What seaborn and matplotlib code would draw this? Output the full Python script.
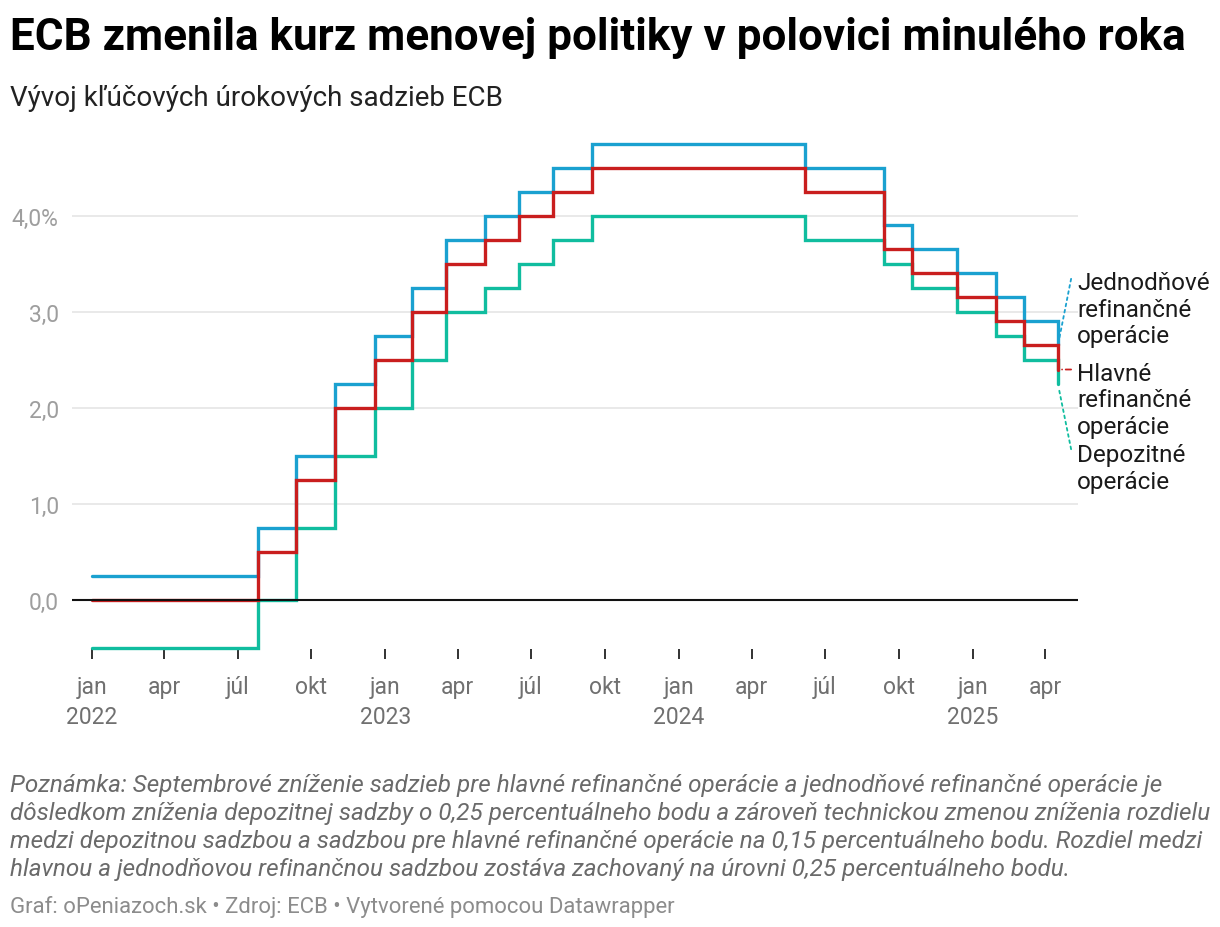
import pandas as pd
import seaborn as sns
import matplotlib.pyplot as plt

# dni zmeny sadzieb ECB (odcitane z grafu)
datumy = ["2022-01-01", "2022-07-27", "2022-09-12", "2022-10-30", "2022-12-19",
          "2023-02-03", "2023-03-17", "2023-05-05", "2023-06-16", "2023-07-28",
          "2023-09-15", "2024-06-06", "2024-09-12", "2024-10-17", "2024-12-12",
          "2025-01-30", "2025-03-06", "2025-04-17"]
jednodnove = [0.25, 0.75, 1.50, 2.25, 2.75, 3.25, 3.75, 4.00, 4.25, 4.50,
              4.75, 4.50, 3.90, 3.65, 3.40, 3.15, 2.90, 2.65]
depozitne = [-0.50, 0.00, 0.75, 1.50, 2.00, 2.50, 3.00, 3.25, 3.50, 3.75,
             4.00, 3.75, 3.50, 3.25, 3.00, 2.75, 2.50, 2.25]
hlavne = [0.00, 0.50, 1.25, 2.00, 2.50, 3.00, 3.50, 3.75, 4.00, 4.25,
          4.50, 4.25, 3.65, 3.40, 3.15, 2.90, 2.65, 2.40]

serie = ["Jednodňové", "Depozitné", "Hlavné"]
popisky = ["Jednodňové\nrefinančné\noperácie", "Depozitné\noperácie",
           "Hlavné\nrefinančné\noperácie"]
farby = ["#1aa1d0", "#10bd9f", "#c91e1e"]

tick_datumy = ["2022-01-01", "2022-04-01", "2022-07-01", "2022-10-01",
               "2023-01-01", "2023-04-01", "2023-07-01", "2023-10-01",
               "2024-01-01", "2024-04-01", "2024-07-01", "2024-10-01",
               "2025-01-01", "2025-04-01"]
tick_popisky = ["jan\n2022", "apr", "júl", "okt", "jan\n2023", "apr", "júl", "okt",
                "jan\n2024", "apr", "júl", "okt", "jan\n2025", "apr"]
y_ticky = [0, 1, 2, 3, 4]
y_popisky = ["0,0", "1,0", "2,0", "3,0", "4,0%"]

df = pd.DataFrame({
    "datum": pd.to_datetime(datumy * 3),
    "sadzba": jednodnove + depozitne + hlavne,
    "typ": ["Jednodňové"] * len(datumy) + ["Depozitné"] * len(datumy) + ["Hlavné"] * len(datumy),
})

sns.set_style("white")
plt.rcParams["font.family"] = ["Roboto", "DejaVu Sans"]

W, H = 1220, 928
fig = plt.figure(figsize=(W / 100, H / 100), dpi=100)
ax = fig.add_axes([72 / W, 1 - 650 / H, (1078 - 72) / W, (650 - 140) / H])

sns.lineplot(data=df, x="datum", y="sadzba", hue="typ", hue_order=serie,
             palette=farby, drawstyle="steps-post", linewidth=2.4,
             legend=False, ax=ax)
for ln in ax.lines:
    ln.set_clip_on(False)
    ln.set_solid_joinstyle("miter")

ax.set_xlim(pd.Timestamp("2021-12-07"), pd.Timestamp("2025-05-12"))
ax.set_ylim(-0.51, 4.80)

# mriezka + nulova os
for v in y_ticky[1:]:
    ax.axhline(v, color="#e3e3e3", lw=1.1, zorder=0)
ax.axhline(0, color="#111111", lw=1.5, zorder=5)

ax.set_yticks(y_ticky)
ax.set_yticklabels(y_popisky)
ax.tick_params(axis="y", left=False, length=0, pad=9.5, labelsize=16.5, labelcolor="#9e9e9e")

ax.set_xticks(pd.to_datetime(tick_datumy))
ax.set_xticklabels(tick_popisky)
ax.tick_params(axis="x", bottom=True, length=7.5, width=1.3, color="#222222", pad=11,
               labelsize=16.5, labelcolor="#707070", direction="out")
for t in ax.get_xticklabels():
    t.set_linespacing(1.4)

for s in ax.spines.values():
    s.set_visible(False)
ax.set_xlabel("")
ax.set_ylabel("")

# popisky na konci ciar
koniec = pd.Timestamp(datumy[-1])
konce = {"Jednodňové": jednodnove[-1], "Hlavné": hlavne[-1], "Depozitné": depozitne[-1]}
ciara_dy = {"Jednodňové": 48, "Hlavné": 0, "Depozitné": -47}
text_dy = {"Jednodňové": 53.7, "Hlavné": 5.5, "Depozitné": -42.5}
styly = {"Jednodňové": (0, (1.5, 2)), "Hlavné": (0, (3, 2)), "Depozitné": (0, (1.5, 2))}
for nazov, popis, farba in zip(serie, popisky, farby):
    ax.annotate("", xy=(koniec, konce[nazov]), xytext=(9.5, ciara_dy[nazov]),
                textcoords="offset points",
                arrowprops=dict(arrowstyle="-", color=farba, lw=1.3, ls=styly[nazov],
                                shrinkA=0, shrinkB=3))
    ax.annotate(popis, xy=(koniec, konce[nazov]), xytext=(14, text_dy[nazov]),
                textcoords="offset points", ha="left", va="top", fontsize=17.5,
                color="#1a1a1a", linespacing=1.2, annotation_clip=False)

fig.text(10 / W, 1 - 50 / H, "ECB zmenila kurz menovej politiky v polovici minulého roka",
         fontsize=31.7, fontweight="bold", color="#000000", ha="left", va="baseline")
fig.text(10 / W, 1 - 106 / H, "Vývoj kľúčových úrokových sadzieb ECB",
         fontsize=20, color="#222222", ha="left", va="baseline")

poznamka = ("Poznámka: Septembrové zníženie sadzieb pre hlavné refinančné operácie a jednodňové refinančné operácie je\n"
            "dôsledkom zníženia depozitnej sadzby o 0,25 percentuálneho bodu a zároveň technickou zmenou zníženia rozdielu\n"
            "medzi depozitnou sadzbou a sadzbou pre hlavné refinančné operácie na 0,15 percentuálneho bodu. Rozdiel medzi\n"
            "hlavnou a jednodňovou refinančnou sadzbou zostáva zachovaný na úrovni 0,25 percentuálneho bodu.")
fig.text(10 / W, 1 - 774 / H, poznamka, fontsize=17.5, style="italic", color="#6a6a6a",
         ha="left", va="top", linespacing=1.27)
fig.text(10 / W, 1 - 913 / H, "Graf: oPeniazoch.sk • Zdroj: ECB • Vytvorené pomocou Datawrapper",
         fontsize=15.9, color="#8c8c8c", ha="left", va="baseline")

fig.savefig("out.png", dpi=100)
